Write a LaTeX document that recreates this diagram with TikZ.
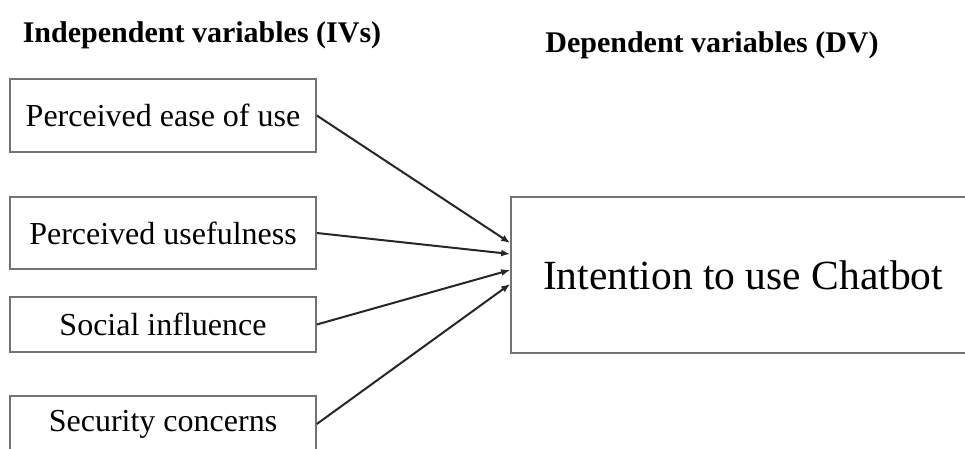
\documentclass[tikz,border=0pt]{standalone}
\usepackage{fontspec}
\setmainfont{Liberation Serif}
\usetikzlibrary{arrows.meta}
\begin{document}
\begin{tikzpicture}[x=0.5pt, y=0.5pt,
  ivbox/.style={draw=black!55, line width=0.8pt, inner sep=0pt,
    minimum width=153pt, font=\fontsize{16}{19}\selectfont},
  dvbox/.style={draw=black!55, line width=0.8pt, inner sep=0pt,
    minimum width=232pt, minimum height=78pt, font=\fontsize{20.75}{25}\selectfont},
  headline/.style={anchor=base, inner sep=0pt, font=\bfseries\fontsize{15}{18}\selectfont},
  link/.style={draw=black!85, line width=1pt, -{Latex[length=4.5pt, width=3.5pt]}}]
  \useasboundingbox (0,0) rectangle (965,449);
  \clip (0,0) rectangle (965,449);
  % headings
  \node[headline] (ivhead) at (202,406) {Independent variables (IVs)};
  \node[headline] (dvhead) at (712,396) {Dependent variables (DV)};
  % independent variables
  \node[ivbox, minimum height=36.5pt] (ease) at (163,333.5) {Perceived ease of use};
  \node[ivbox, minimum height=36pt] (useful) at (163,216) {Perceived usefulness};
  \node[ivbox, minimum height=27.5pt] (social) at (163,124.5) {Social influence};
  \node[ivbox, minimum height=28pt] (security) at (163,25) {Security concerns};
  % dependent variable
  \node[dvbox] (intent) at (743,174) {Intention to use Chatbot};
  % links
  \draw[link] (ease.east) -- ([yshift=16pt]intent.west);
  \draw[link] (useful.east) -- ([yshift=10.5pt]intent.west);
  \draw[link] (social.east) -- ([yshift=2.5pt]intent.west);
  \draw[link] (security.east) -- ([yshift=-4.5pt]intent.west);
\end{tikzpicture}
\end{document}
